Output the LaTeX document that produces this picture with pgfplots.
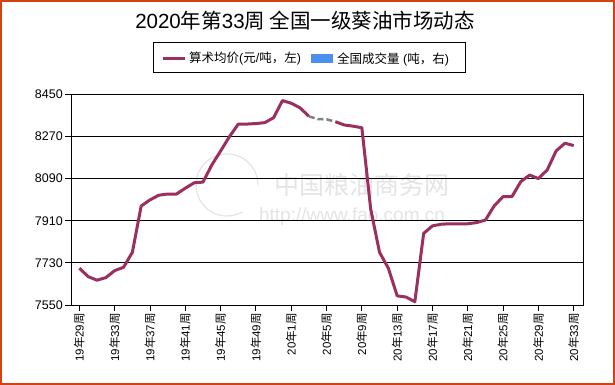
\documentclass[border=0pt]{standalone}
\usepackage{pgfplots}
\pgfplotsset{compat=1.18}
\usepackage{fontspec}
\setmainfont{Liberation Sans}
\newfontfamily\cjk{Noto Sans CJK SC}
\definecolor{plum}{RGB}{155,48,96}
\definecolor{legblue}{RGB}{74,144,236}
\definecolor{frame}{RGB}{212,66,16}
\definecolor{wm}{RGB}{228,228,228}
\newcommand\wk[2]{#1{\cjk 年}#2{\cjk 周}}
\begin{document}
\begin{tikzpicture}[x=1pt,y=1pt]
\useasboundingbox (0,0) rectangle (615,385);
\fill[white] (0,0) rectangle (615,385);
% watermark
\draw[wm, line width=1.2pt] (258,200) arc (0:300:31);
\node[text=wm, font=\cjk\fontsize{25}{25}\selectfont] at (362,200) {中国粮油商务网};
\node[text=wm, font=\fontsize{19}{19}\selectfont] at (352,168) {http://www.fao.com.cn};
\begin{axis}[
  at={(71pt,80pt)}, anchor=south west,
  scale only axis, width=512pt, height=210.7pt,
  xmin=-0.95, xmax=57.05, ymin=7550, ymax=8450,
  ytick={7550,7730,7910,8090,8270,8450},
  ymajorgrids, grid style={black, line width=0.9pt},
  axis line style={black, line width=0.9pt},
  xtick={0,4,8,12,16,20,24,28,32,36,40,44,48,52,56},
  xticklabels={\wk{19}{29},\wk{19}{33},\wk{19}{37},\wk{19}{41},\wk{19}{45},\wk{19}{49},\wk{20}{1},\wk{20}{5},\wk{20}{9},\wk{20}{13},\wk{20}{17},\wk{20}{21},\wk{20}{25},\wk{20}{29},\wk{20}{33}},
  x tick label style={rotate=90, anchor=east, font=\fontsize{11.5}{11.5}\selectfont, inner sep=2pt},
  y tick label style={font=\fontsize{12.5}{12.5}\selectfont, inner sep=2pt},
  tick align=outside, xtick pos=bottom, ytick pos=left,
  major tick length=6pt,
  tick style={black, line width=0.9pt},
  /pgf/number format/assume math mode=true,
  /pgf/number format/1000 sep={},
]
\addplot[plum, line width=3pt, line join=round] coordinates {
(0,7707) (1,7671) (2,7656) (3,7667) (4,7697) (5,7711) (6,7775) (7,7973)
(8,7999) (9,8019) (10,8024) (11,8024) (12,8049) (13,8072) (14,8075) (15,8148)
(16,8208) (17,8269) (18,8323) (19,8323) (20,8325) (21,8329) (22,8350) (23,8423)
(24,8412) (25,8392) (26,8356)};
\addplot[gray, line width=2.5pt, dash pattern=on 6pt off 3pt] coordinates {
(26,8356) (27,8344) (28,8343) (29,8333)};
\addplot[plum, line width=3pt, line join=round] coordinates {
(29,8333) (30,8319) (31,8314) (32,8307) (33,7960) (34,7775) (35,7707) (36,7589)
(37,7584) (38,7564) (39,7856) (40,7888) (41,7895) (42,7897) (43,7897) (44,7897)
(45,7902) (46,7913) (47,7974) (48,8013) (49,8013) (50,8077) (51,8105) (52,8090)
(53,8127) (54,8208) (55,8241) (56,8231)};
\end{axis}
% title
\node[font=\fontsize{20.5}{20.5}\selectfont] at (305,364) {2020{\cjk 年第}33{\cjk 周\ 全国一级葵油市场动态}};
% legend
\draw[black, line width=1pt] (153,312) rectangle (465,342);
\draw[plum, line width=3pt] (163,326) -- (185,326);
\node[anchor=west, font=\fontsize{12.5}{12.5}\selectfont, inner sep=0pt] at (189,326) {{\cjk 算术均价}({\cjk 元}/{\cjk 吨，左})};
\fill[legblue] (311,321.5) rectangle (333,330.5);
\node[anchor=west, font=\fontsize{12.5}{12.5}\selectfont, inner sep=0pt] at (337,326) {{\cjk 全国成交量} ({\cjk 吨，右})};
% frame
\draw[frame, line width=1.6pt] (0.8,0.8) rectangle (614.2,384.2);
\end{tikzpicture}
\end{document}
